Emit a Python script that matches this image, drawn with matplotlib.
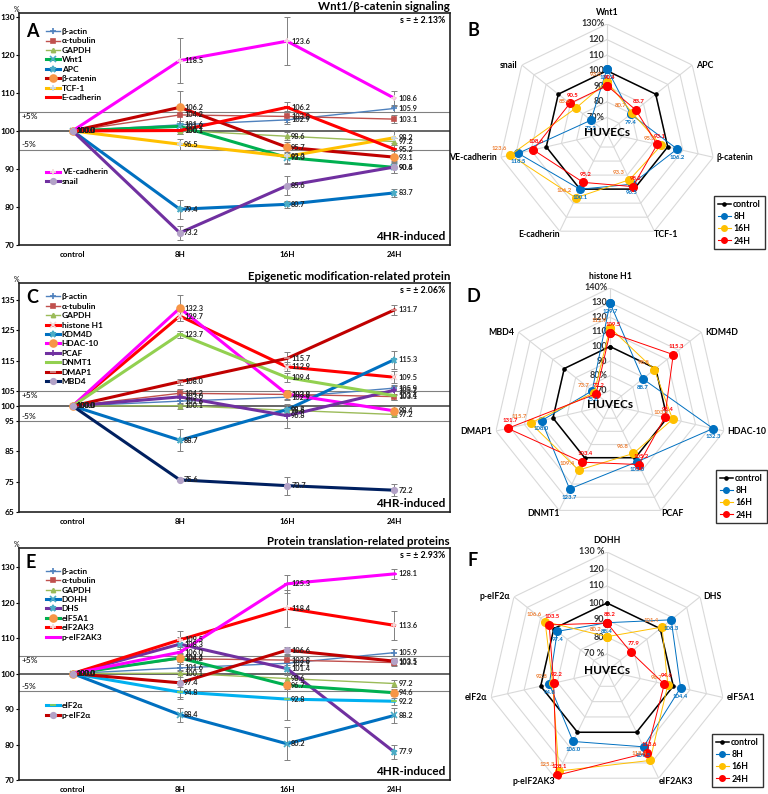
import numpy as np
import matplotlib
matplotlib.use('Agg')
import matplotlib.pyplot as plt
from matplotlib.lines import Line2D

plt.rcParams['font.family'] = ['Lato', 'DejaVu Sans']
plt.rcParams['font.weight'] = 'bold'

times = ['control', '8H', '16H', '24H']

# ---- A: Wnt1/beta-catenin, line chart ----
a_names = ['β-actin', 'α-tubulin', 'GAPDH', 'Wnt1', 'APC', 'β-catenin', 'TCF-1',
           'E-cadherin', 'VE-cadherin', 'snail']
a_values = [[100, 101.6, 102.9, 105.9],
            [100, 104.2, 103.8, 103.1],
            [100, 100.1, 98.6, 97.2],
            [100, 101.2, 93.0, 90.4],
            [100, 79.4, 80.7, 83.7],
            [100, 106.2, 95.7, 93.1],
            [100, 96.5, 93.3, 98.2],
            [100, 100.1, 106.2, 95.2],
            [100, 118.5, 123.6, 108.6],
            [100, 73.2, 85.6, 90.5]]
a_errors = [[1.0, 1.0, 1.0], [1.5, 1.5, 1.0], [1.0, 1.0, 1.0], [1.5, 1.5, 1.5],
            [2.5, 1.0, 1.0], [4.2, 1.5, 1.5], [1.5, 2.0, 2.0], [1.0, 1.3, 1.5],
            [6.0, 6.3, 2.0], [1.8, 2.5, 1.5]]

# ---- C: epigenetic modification, line chart ----
c_names = ['β-actin', 'α-tubulin', 'GAPDH', 'histone H1', 'KDM4D', 'HDAC-10', 'PCAF',
           'DNMT1', 'DMAP1', 'MBD4']
c_values = [[100, 101.6, 102.9, 105.9],
            [100, 104.2, 103.8, 103.1],
            [100, 100.1, 98.6, 97.2],
            [100, 129.7, 112.9, 109.5],
            [100, 88.7, 98.8, 115.3],
            [100, 132.3, 103.9, 98.4],
            [100, 103.0, 96.8, 105.2],
            [100, 123.7, 109.4, 103.4],
            [100, 108.0, 115.7, 131.7],
            [100, 75.6, 73.7, 72.2]]
c_errors = [[1.0, 1.0, 1.0], [1.5, 1.5, 1.0], [1.0, 1.0, 1.0], [1.5, 1.5, 2.0],
            [3.7, 1.5, 3.0], [4.2, 1.0, 1.5], [1.5, 4.0, 1.5], [1.2, 1.5, 1.5],
            [1.0, 2.0, 1.5], [0.5, 3.0, 2.0]]

# ---- E: protein translation, line chart ----
e_names = ['β-actin', 'α-tubulin', 'GAPDH', 'DOHH', 'DHS', 'eIF5A1', 'eIF2AK3',
           'p-eIF2AK3', 'eIF2α', 'p-eIF2α']
e_values = [[100, 101.6, 102.9, 105.9],
            [100, 104.2, 103.8, 103.1],
            [100, 100.1, 98.6, 97.2],
            [100, 88.4, 80.2, 88.2],
            [100, 108.3, 101.4, 77.9],
            [100, 104.4, 96.7, 94.6],
            [100, 109.5, 118.4, 113.6],
            [100, 106.0, 125.3, 128.1],
            [100, 94.8, 92.8, 92.2],
            [100, 97.4, 106.6, 103.5]]
e_errors = [[1.0, 1.0, 1.0], [1.5, 1.5, 1.0], [1.0, 1.0, 1.0], [2.0, 4.7, 2.0],
            [2.0, 1.5, 2.0], [1.0, 1.0, 1.0], [2.5, 5.3, 4.0], [1.5, 2.5, 1.5],
            [1.5, 6.0, 1.0], [4.5, 1.0, 1.0]]

# ---- radar data ----
b_axes = ['Wnt1', 'APC', 'β-catenin', 'TCF-1', 'E-cadherin', 'VE-cadherin', 'snail']
b_8h = [101.2, 79.4, 106.2, 96.5, 100.1, 118.5, 73.2]
b_16h = [93.0, 80.7, 95.7, 93.3, 106.2, 123.6, 85.6]
b_24h = [90.4, 83.7, 93.1, 98.2, 95.2, 108.6, 90.5]

d_axes = ['histone H1', 'KDM4D', 'HDAC-10', 'PCAF', 'DNMT1', 'DMAP1', 'MBD4']
d_8h = [129.7, 88.7, 132.3, 103.0, 123.7, 108.0, 75.6]
d_16h = [112.9, 98.8, 103.9, 96.8, 109.4, 115.7, 73.7]
d_24h = [109.5, 115.3, 98.4, 105.2, 103.4, 131.7, 72.2]

f_axes = ['DOHH', 'DHS', 'eIF5A1', 'eIF2AK3', 'p-eIF2AK3', 'eIF2α', 'p-eIF2α']
f_8h = [88.4, 108.3, 104.4, 109.5, 106.0, 94.8, 97.4]
f_16h = [80.2, 101.4, 96.7, 118.4, 125.3, 92.8, 106.6]
f_24h = [88.2, 77.9, 94.6, 113.6, 128.1, 92.2, 103.5]

# styles: color, linewidth, marker, marker color, marker size
ref_styles = [('#4F81BD', 1.0, '+', '#4F81BD', 4),
              ('#C0504D', 1.0, 's', '#C0504D', 3),
              ('#9BBB59', 1.0, '^', '#9BBB59', 3)]
a_styles = ref_styles + [('#00B050', 2.2, 'x', '#4BACC6', 4),
                         ('#0070C0', 2.2, '*', '#4BACC6', 5),
                         ('#C00000', 2.2, 'o', '#F79646', 5),
                         ('#FFC000', 2.2, '+', '#C6D9F1', 5),
                         ('#FF0000', 2.2, '_', '#FF0000', 4),
                         ('#FF00FF', 2.2, '+', '#F2DCDB', 5),
                         ('#7030A0', 2.2, 'o', '#B3A2C7', 4)]
c_styles = ref_styles + [('#FF0000', 2.2, 'x', '#F2DCDB', 4),
                         ('#0070C0', 2.2, '*', '#4BACC6', 5),
                         ('#FF00FF', 2.2, 'o', '#F79646', 5),
                         ('#7030A0', 2.2, '+', '#7030A0', 4),
                         ('#92D050', 2.2, '_', '#92D050', 4),
                         ('#C00000', 2.2, '_', '#D99694', 4),
                         ('#002060', 2.2, 'o', '#B3A2C7', 4)]
e_styles = ref_styles + [('#0070C0', 2.2, 'x', '#4BACC6', 4),
                         ('#7030A0', 2.2, '*', '#4BACC6', 5),
                         ('#00B050', 2.2, 'o', '#F79646', 5),
                         ('#FF0000', 2.2, '+', '#F2DCDB', 4),
                         ('#FF00FF', 2.2, '_', '#FF00FF', 4),
                         ('#00B0F0', 2.2, '_', '#92D050', 4),
                         ('#C00000', 2.2, 'o', '#B3A2C7', 4)]

W, H = 768, 794
fig = plt.figure(figsize=(W / 100, H / 100), dpi=100)


def px_rect(left, top, right, bottom):
    return [left / W, 1 - bottom / H, (right - left) / W, (bottom - top) / H]


def line_panel(rect, names, values, errors, styles, ylim, yticks, title, letter,
               letter_y, s_text, split, leg1_top, leg2_top):
    ax = fig.add_axes(rect)
    x = np.arange(len(times))
    ax.axhline(105, color='#808080', lw=0.8, zorder=1)
    ax.axhline(100, color='#595959', lw=1.3, zorder=1)
    ax.axhline(95, color='#808080', lw=0.8, zorder=1)
    tr = ax.get_yaxis_transform()
    ax.text(0.006, 104.6, '+5%', transform=tr, fontsize=6, fontweight='normal', va='top')
    ax.text(0.006, 95.4, '-5%', transform=tr, fontsize=6, fontweight='normal', va='bottom')

    handles = []
    for name, vals, err, st in zip(names, values, errors, styles):
        color, lw, marker, mc, ms = st
        ax.errorbar(x[1:], vals[1:], yerr=err, fmt='none', ecolor='#808080',
                    elinewidth=0.7, capsize=2, capthick=0.7, zorder=2)
        h, = ax.plot(x, vals, color=color, lw=lw, marker=marker, mfc=mc, mec=mc,
                     ms=ms, mew=1.2, label=name, zorder=3)
        handles.append(h)
        for xi, v in zip(x, vals):
            ax.annotate(f'{v:.1f}', (xi, v), xytext=(3, 0), textcoords='offset points',
                        fontsize=5.3, va='center', color='#222222', zorder=4)

    ax.set_xlim(-0.5, 3.52)
    ax.set_ylim(*ylim)
    ax.set_yticks(yticks)
    ax.set_xticks(x)
    ax.set_xticklabels(times)
    ax.tick_params(axis='y', labelsize=6, length=2, width=0.8, pad=1)
    ax.tick_params(axis='x', labelsize=5.8, length=0, pad=4)
    for sp in ax.spines.values():
        sp.set_linewidth(1.2)
        sp.set_color('#222222')
    ax.text(0.0, 1.0, '%', transform=ax.transAxes, ha='right', va='bottom',
            fontsize=5, fontweight='normal')
    ax.set_title(title, loc='right', fontsize=8.3, fontweight='bold', pad=2)
    ax.text(0.016, letter_y, letter, transform=ax.transAxes, fontsize=13,
            fontweight='bold', va='top')
    ax.text(0.99, 0.985, s_text, transform=ax.transAxes, fontsize=6.3,
            ha='right', va='top')
    ax.text(0.99, 0.015, '4HR-induced', transform=ax.transAxes, fontsize=8.5,
            ha='right', va='bottom')

    leg_kw = dict(frameon=False, fontsize=6, labelspacing=0.29, handlelength=1.7,
                  handletextpad=0.2, borderpad=0, borderaxespad=0)
    leg = ax.legend(handles[:split], names[:split], loc='upper left',
                    bbox_to_anchor=(0.062, leg1_top), **leg_kw)
    if split < len(names):
        ax.add_artist(leg)
        ax.legend(handles[split:], names[split:], loc='upper left',
                  bbox_to_anchor=(0.062, leg2_top), **leg_kw)
    return ax


def radar_panel(cx, cy, R, labels, s8, s16, s24, rmax, rlabels, letter, letter_xy, leg_xy):
    ax = fig.add_axes(px_rect(cx - R, cy - R, cx + R, cy + R), projection='polar')
    ax.set_facecolor('none')
    ax.set_theta_zero_location('N')
    ax.set_theta_direction(-1)
    n = len(labels)
    ang = np.linspace(0, 2 * np.pi, n, endpoint=False)
    angc = np.append(ang, ang[0])
    rings = list(range(70, rmax + 1, 10))
    for r in rings:
        ax.plot(angc, [r] * (n + 1), color='#D9D9D9', lw=0.8, zorder=1)
    for a in ang:
        ax.plot([a, a], [60, rmax], color='#D9D9D9', lw=0.8, zorder=1)

    ax.plot(angc, [100] * (n + 1), color='black', lw=1.1, marker='o', ms=2.3, zorder=3)
    series = [(s8, '#0070C0', '#0070C0', (0, -6)),
              (s16, '#FFC000', '#ED7D31', (-8, 5)),
              (s24, '#FF0000', '#FF0000', (2, 6))]
    for vals, col, tcol, off in series:
        vc = list(vals) + [vals[0]]
        ax.plot(angc, vc, color=col, lw=0.7, marker='o', ms=5.5, zorder=4)
        for a, v in zip(ang, vals):
            ax.annotate(f'{v:.1f}', (a, v), xytext=off, textcoords='offset points',
                        fontsize=4.3, color=tcol, ha='center', va='center', zorder=5)

    for r, lab in zip(rings, rlabels):
        ax.annotate(lab, (0, r), xytext=(-2, 0), textcoords='offset points',
                    ha='right', va='center', fontsize=6.5, color='#333333', zorder=2)
    # category names just outside the outer ring
    for a, lab in zip(ang, labels):
        s, c = np.sin(a), np.cos(a)
        side = 'left' if s > 0 else 'right'
        if c > 0.9:
            ha, va, off = 'center', 'bottom', (0, 5)
        elif c < -0.5:
            ha, va, off = side, 'top', (0, 1)
        else:
            ha, va, off = side, 'center', (2.5 if s > 0 else -3, 0)
        ax.annotate(lab, (a, rmax), xytext=off, textcoords='offset points',
                    ha=ha, va=va, fontsize=6.3, annotation_clip=False)
    ax.text(0, 60, 'HUVECs', ha='center', va='center', fontsize=8.5, zorder=6)

    ax.grid(False)
    ax.set_xticks([])
    ax.set_yticks([])
    ax.spines['polar'].set_visible(False)
    ax.set_ylim(60, rmax)

    fig.text(letter_xy[0] / W, 1 - letter_xy[1] / H, letter, fontsize=13,
             fontweight='bold', va='center', ha='center')
    handles = [Line2D([], [], color='black', lw=1.1, marker='o', ms=2.3),
               Line2D([], [], color='#0070C0', lw=0.8, marker='o', ms=4),
               Line2D([], [], color='#FFC000', lw=0.8, marker='o', ms=4),
               Line2D([], [], color='#FF0000', lw=0.8, marker='o', ms=4)]
    fig.legend(handles, ['control', '8H', '16H', '24H'], loc='upper left',
               bbox_to_anchor=(leg_xy[0] / W, 1 - leg_xy[1] / H), fontsize=6.3,
               frameon=True, fancybox=False, edgecolor='black', handlelength=1.4,
               handletextpad=0.3, labelspacing=0.35, borderpad=0.45)
    return ax


line_panel(px_rect(19, 13, 450, 245), a_names, a_values, a_errors, a_styles,
           (70, 131), [70, 80, 90, 100, 110, 120, 130],
           'Wnt1/β-catenin signaling', 'A', 0.955, 's = ± 2.13%', 8, 0.935, 0.33)
line_panel(px_rect(19, 283, 450, 512), c_names, c_values, c_errors, c_styles,
           (65, 140.6), [65, 75, 85, 95, 100, 105, 115, 125, 135],
           'Epigenetic modification-related protein', 'C', 0.975, 's = ± 2.06%', 10, 0.955, 0)
line_panel(px_rect(19, 548, 450, 780), e_names, e_values, e_errors, e_styles,
           (70, 135.4), [70, 80, 90, 100, 110, 120, 130],
           'Protein translation-related proteins', 'E', 0.975, 's = ± 2.93%', 8, 0.915, 0.335)

radar_panel(607, 133, 109, b_axes, b_8h, b_16h, b_24h, 130,
            ['70%', '80', '90', '100', '110', '120', '130%'], 'B', (473, 30), (710, 192))
radar_panel(610, 405, 117, d_axes, d_8h, d_16h, d_24h, 140,
            ['70', '80%', '90', '100', '110', '120', '130', '140%'], 'D', (473, 296), (712, 466))
radar_panel(607, 671, 119, f_axes, f_8h, f_16h, f_24h, 130,
            ['70 %', '80', '90', '100', '110', '120', '130 %'], 'F', (473, 561), (708, 730))

fig.savefig('out.png', dpi=100)
